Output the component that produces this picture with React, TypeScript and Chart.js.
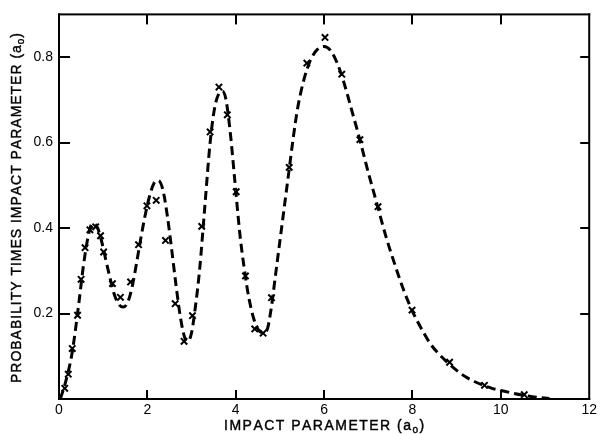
import React, { useEffect, useRef } from "react";
import { Chart, registerables } from "chart.js";

Chart.register(...registerables);

// Data points (marked "x")
const markerX = [0.13, 0.21, 0.30, 0.42, 0.50, 0.59, 0.70, 0.83, 0.94, 1.01, 1.21, 1.39, 1.62, 1.80, 1.99, 2.20, 2.41, 2.63, 2.83, 3.02, 3.23, 3.42, 3.62, 3.81, 4.01, 4.22, 4.43, 4.62, 4.81, 5.21, 5.61, 6.02, 6.40, 6.81, 7.22, 7.99, 8.84, 9.63, 10.53];
const markerY = [0.025, 0.058, 0.118, 0.196, 0.28, 0.354, 0.396, 0.403, 0.382, 0.344, 0.27, 0.238, 0.274, 0.361, 0.452, 0.465, 0.371, 0.223, 0.135, 0.195, 0.404, 0.625, 0.73, 0.665, 0.485, 0.288, 0.164, 0.154, 0.237, 0.542, 0.786, 0.846, 0.76, 0.607, 0.45, 0.208, 0.086, 0.032, 0.010];

// Dashed fitted curve
const curveX = [0.03, 0.15, 0.3, 0.45, 0.55, 0.65, 0.75, 0.85, 0.95, 1.05, 1.15, 1.25, 1.35, 1.45, 1.55, 1.65, 1.75, 1.85, 1.95, 2.05, 2.15, 2.25, 2.35, 2.45, 2.55, 2.65, 2.75, 2.85, 2.92, 3.0, 3.08, 3.18, 3.3, 3.42, 3.52, 3.62, 3.7, 3.78, 3.88, 3.98, 4.1, 4.2, 4.3, 4.45, 4.6, 4.7, 4.8, 4.9, 5.0, 5.1, 5.2, 5.3, 5.4, 5.55, 5.7, 5.85, 6.0, 6.15, 6.3, 6.45, 6.6, 6.8, 7.0, 7.2, 7.4, 7.6, 7.8, 8.0, 8.2, 8.4, 8.6, 8.8, 9.0, 9.2, 9.4, 9.6, 9.8, 10.0, 10.25, 10.5, 10.75, 11.1];
const curveY = [0.0, 0.04, 0.11, 0.225, 0.31, 0.375, 0.41, 0.405, 0.375, 0.33, 0.285, 0.245, 0.222, 0.215, 0.225, 0.26, 0.315, 0.375, 0.43, 0.475, 0.505, 0.511, 0.49, 0.43, 0.35, 0.265, 0.19, 0.142, 0.135, 0.155, 0.21, 0.3, 0.45, 0.6, 0.68, 0.715, 0.72, 0.7, 0.62, 0.51, 0.38, 0.3, 0.235, 0.175, 0.155, 0.16, 0.21, 0.29, 0.37, 0.45, 0.53, 0.61, 0.68, 0.75, 0.795, 0.818, 0.825, 0.815, 0.785, 0.74, 0.685, 0.61, 0.53, 0.455, 0.38, 0.315, 0.255, 0.205, 0.165, 0.13, 0.105, 0.085, 0.067, 0.052, 0.041, 0.032, 0.025, 0.02, 0.014, 0.009, 0.005, 0.001];

const xTickValues = [0, 2, 4, 6, 8, 10, 12];
const xInnerTicks = [2, 4, 6, 8, 10];
const yTickValues = [0.2, 0.4, 0.6, 0.8];

const xTitle = [
  { text: "IMPACT PARAMETER (a", sub: false },
  { text: "o", sub: true },
  { text: ")", sub: false },
];
const yTitle = [
  { text: "PROBABILITY TIMES IMPACT PARAMETER (a", sub: false },
  { text: "o", sub: true },
  { text: ")", sub: false },
];

const FONT = "'Liberation Sans', Arial, sans-serif";

function drawSpaced(ctx: CanvasRenderingContext2D, segs: { text: string; sub: boolean }[], cx: number, cy: number, target: number, size: number) {
  const chars: { ch: string; font: string; dy: number; w: number }[] = [];
  for (const s of segs) {
    const f = s.sub ? `${Math.round(size * 0.72)}px ${FONT}` : `${size}px ${FONT}`;
    ctx.font = f;
    for (const ch of s.text) {
      chars.push({ ch, font: f, dy: s.sub ? size * 0.3 : 0, w: ctx.measureText(ch).width });
    }
  }
  const natural = chars.reduce((a, c) => a + c.w, 0);
  const sp = (target - natural) / (chars.length - 1);
  let x = cx - target / 2;
  ctx.textBaseline = "middle";
  ctx.textAlign = "left";
  ctx.fillStyle = "#000";
  ctx.strokeStyle = "#000";
  ctx.lineWidth = 0.4;
  for (const c of chars) {
    ctx.font = c.font;
    ctx.fillText(c.ch, x, cy + c.dy);
    ctx.strokeText(c.ch, x, cy + c.dy);
    x += c.w + sp;
  }
}

const framePlugin = {
  id: "frame",
  afterDraw(chart: any) {
    const ctx = chart.ctx as CanvasRenderingContext2D;
    const a = chart.chartArea;
    const xs = chart.scales.x;
    const ys = chart.scales.y;
    ctx.save();
    ctx.setLineDash([]);
    ctx.fillStyle = "#000";
    // frame
    ctx.fillRect(a.left - 1, a.top - 1, a.right - a.left + 2, 2);
    ctx.fillRect(a.left - 1, a.bottom - 1, a.right - a.left + 2, 2);
    ctx.fillRect(a.left - 1, a.top - 1, 2, a.bottom - a.top + 2);
    ctx.fillRect(a.right - 1, a.top - 1, 2, a.bottom - a.top + 2);
    // inward ticks
    for (const v of xInnerTicks) {
      const px = Math.round(xs.getPixelForValue(v));
      ctx.fillRect(px - 1, a.bottom - 9, 2, 9);
      ctx.fillRect(px - 1, a.top, 2, 10);
    }
    for (const v of yTickValues) {
      const py = Math.round(ys.getPixelForValue(v));
      ctx.fillRect(a.left, py - 1, 11, 2);
      ctx.fillRect(a.right - 9, py - 1, 9, 2);
    }
    // titles
    drawSpaced(ctx, xTitle, (a.left + a.right) / 2, 426, 200, 14);
    ctx.translate(17, 208);
    ctx.rotate(-Math.PI / 2);
    drawSpaced(ctx, yTitle, 0, 0, 350, 14);
    ctx.restore();
  },
};

export default function App() {
  const ref = useRef<HTMLCanvasElement>(null);
  useEffect(() => {
    if (!ref.current) return;
    const chart = new Chart(ref.current, {
      type: "scatter",
      data: {
        datasets: [
          {
            label: "points",
            data: markerX.map((x, i) => ({ x, y: markerY[i] })),
            pointStyle: "crossRot",
            pointRadius: 4.5,
            pointBorderWidth: 2,
            borderColor: "#000",
            backgroundColor: "#000",
            showLine: false,
            order: 0,
          },
          {
            label: "curve",
            data: curveX.map((x, i) => ({ x, y: curveY[i] })),
            showLine: true,
            pointRadius: 0,
            borderColor: "#000",
            borderWidth: 3,
            borderDash: [9, 5],
            cubicInterpolationMode: "monotone",
            order: 1,
          },
        ],
      },
      options: {
        responsive: false,
        animation: false,
        layout: { padding: { top: 10, right: 9, left: 0, bottom: 0 } },
        plugins: { legend: { display: false }, tooltip: { enabled: false } },
        scales: {
          x: {
            type: "linear",
            min: 0,
            max: 12,
            afterBuildTicks: (s: any) => {
              s.ticks = xTickValues.map((v) => ({ value: v }));
            },
            afterFit: (s: any) => {
              s.height = 35;
            },
            grid: { display: false, drawTicks: false },
            border: { display: false },
            ticks: {
              color: "#000",
              padding: 3,
              maxRotation: 0,
              font: { family: FONT, size: 14 },
              callback: (v: any) => String(v),
            },
          },
          y: {
            type: "linear",
            min: 0,
            max: 0.9,
            afterBuildTicks: (s: any) => {
              s.ticks = yTickValues.map((v) => ({ value: v }));
            },
            afterFit: (s: any) => {
              s.width = 59;
            },
            grid: { display: false, drawTicks: false },
            border: { display: false },
            ticks: {
              color: "#000",
              padding: 6,
              font: { family: FONT, size: 14 },
              callback: (v: any) => Number(v).toFixed(1),
            },
          },
        },
      },
      plugins: [framePlugin],
    } as any);
    return () => chart.destroy();
  }, []);
  return (
    <div style={{ position: "absolute", left: 0, top: 0, width: 600, height: 434, background: "#fff" }}>
      <canvas ref={ref} width={600} height={434} />
    </div>
  );
}
